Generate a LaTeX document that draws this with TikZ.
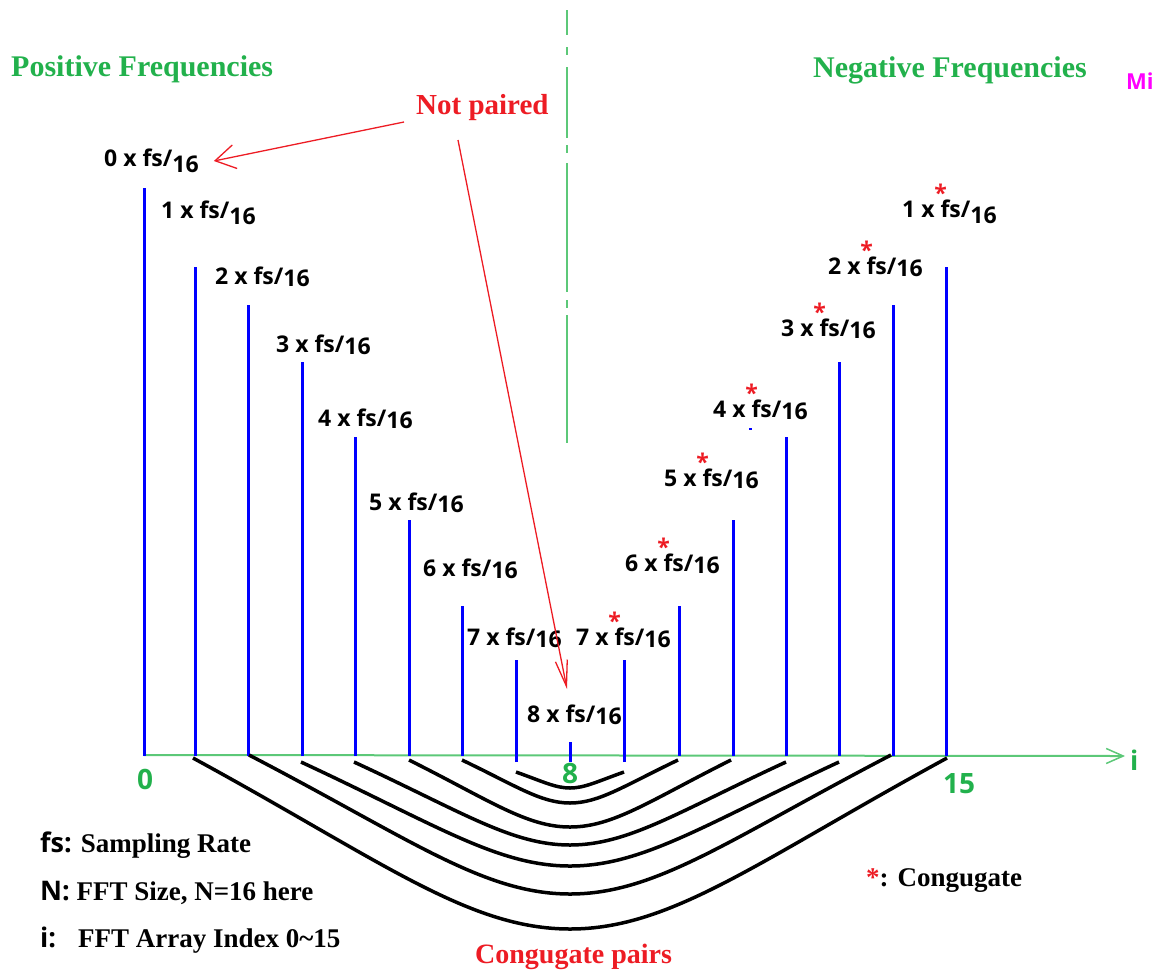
\documentclass[tikz,border=0pt]{standalone}
\usepackage{fontspec}
\setmainfont{Liberation Serif}
\newfontfamily\labfont{Open Sans}
\usetikzlibrary{arrows.meta,calc}
\definecolor{pgreen}{HTML}{22B14C}
\definecolor{pred}{HTML}{ED1C24}
\definecolor{lgreen}{HTML}{5CC878}
\definecolor{mgta}{HTML}{FF00FF}
\newcommand\frq[2]{#1 x fs/\raisebox{-#2em}{16}}
\newcommand\frc[2]{#1 x \makebox[0pt][c]{\raisebox{0.66em}{\color{pred}*}}fs/\raisebox{-#2em}{16}}
\tikzset{
  stem/.style={draw=blue, line width=3pt},
  lab/.style={font=\labfont\bfseries\fontsize{23}{23}\selectfont, anchor=base west, inner sep=0pt},
  ttl/.style={font=\bfseries\fontsize{30}{30}\selectfont, text=pgreen, anchor=base west, inner sep=0pt},
  redlab/.style={font=\bfseries\fontsize{28}{28}\selectfont, text=pred, anchor=base west, inner sep=0pt},
  legend/.style={font=\bfseries\fontsize{27}{27}\selectfont, anchor=base west, inner sep=0pt},
  axnum/.style={font=\labfont\bfseries\fontsize{28}{28}\selectfont, text=pgreen, anchor=base west, inner sep=0pt},
  axisline/.style={draw=lgreen, line width=2pt},
  pairarc/.style={draw=black, line width=3.5pt},
  redarr/.style={draw=pred, line width=1.3pt},
}
\begin{document}
\begin{tikzpicture}[x=1pt,y=-1pt]
\useasboundingbox (0,0) rectangle (1153,970);
% centre dash-dot line
\coordinate (c1) at (567,10);
\coordinate (c2) at (567,443);
\draw[draw=lgreen, line width=2pt, dash pattern=on 25pt off 12pt on 8pt off 12pt on 71pt off 7pt on 8pt off 10pt on 129pt off 8pt on 8pt off 7pt on 128pt off 50pt] (c1) -- (c2);
% axis
\coordinate (ax0) at (144,755);
\coordinate (ax1) at (1125,756);
\draw[axisline, -{Straight Barb[length=17pt,width=15pt,line width=1.5pt]}] (ax0) -- (ax1);
% stems
\foreach \i/\x/\t/\b in {0/144/188/756, 1/195/267/756, 2/248/305/756, 3/302/362/756, 4/355/437/756, 5/409/520/756, 6/462/606/756, 7/516/660/762, 8/570/742/762, 9/624/660/762, 10/679/606/756, 11/733/520/756, 12/786/437/756, 13/839/362/756, 14/893/305/756, 15/946/267/756}{
  \coordinate (t\i) at (\x,\t);
  \coordinate (b\i) at (\x,\b);
  \draw[stem] (b\i) -- (t\i);
}
\fill[blue] (749,428) rectangle (752,430);
% conjugate pair arcs
\foreach \k/\xa/\ya/\yb in {1/193/758/929, 2/249/755/894, 3/301/762/866, 4/354/762/845, 5/409/760/827, 6/462/760/803, 7/516/772/788}{
  \coordinate (pl\k) at (\xa,\ya);
  \coordinate (pm\k) at (570,\yb);
  \coordinate (pr\k) at ({1140-\xa},\ya);
  \draw[pairarc] (pl\k) .. controls ({\xa+0.5*(570-\xa)},{\ya+0.6*(\yb-\ya)}) and ({\xa+0.73*(570-\xa)},\yb) .. (pm\k)
     .. controls ({570+0.27*(570-\xa)},\yb) and ({570+0.5*(570-\xa)},{\ya+0.6*(\yb-\ya)}) .. (pr\k);
}
% frequency labels
\node[lab] (L0) at (104,166) {\frq{0}{0.3}};
\node[lab] (L1) at (161,218) {\frq{1}{0.3}};
\node[lab] (L2) at (215,284) {\frq{2}{0.12}};
\node[lab] (L3) at (276,352) {\frq{3}{0.12}};
\node[lab] (L4) at (318,426) {\frq{4}{0.12}};
\node[lab] (L5) at (369,510) {\frq{5}{0.12}};
\node[lab] (L6) at (423,576) {\frq{6}{0.12}};
\node[lab] (L7) at (467,645) {\frq{7}{0.12}};
\node[lab] (L8) at (527,722) {\frq{8}{0.12}};
\node[lab] (R7) at (576,645) {\frc{7}{0.12}};
\node[lab] (R6) at (625,571) {\frc{6}{0.12}};
\node[lab] (R5) at (664,486) {\frc{5}{0.12}};
\node[lab] (R4) at (713,417) {\frc{4}{0.12}};
\node[lab] (R3) at (781,336) {\frc{3}{0.12}};
\node[lab] (R2) at (828,274) {\frc{2}{0.12}};
\node[lab] (R1) at (902,217) {\frc{1}{0.3}};
% titles
\node[ttl] (pos) at (11,76) {Positive Frequencies};
\node[ttl] (neg) at (813,77) {Negative Frequencies};
\node[font=\labfont\bfseries\fontsize{22}{22}\selectfont, text=mgta, anchor=base west, inner sep=0pt] (mi) at (1126,89) {Mi};
% not paired
\node[redlab, font=\bfseries\fontsize{29}{29}\selectfont] (np) at (416,114) {Not paired};
\draw[redarr, -{Straight Barb[length=20pt,width=24pt,line width=1.3pt]}] ($(np.base west)+(-12,8)$) -- ($(L0.base east)+(15,-5)$);
\draw[redarr, -{Straight Barb[length=26pt,width=12pt,line width=1.3pt]}] ($(np.base west)+(42,26)$) -- ($(L8.base west)+(40,-33)$);
% axis numbers
\node[axnum] (n0) at (137,789) {0};
\node[axnum] (n8) at (562,783) {8};
\node[axnum] (n15) at (943,793) {15};
\node[axnum, font=\labfont\bfseries\fontsize{27}{27}\selectfont] (ni) at (1130,770) {i};
% legend
\node[legend] (lg1) at (40,852) {{\labfont fs:} Sampling Rate};
\node[legend] (lg2) at (40,900) {{\labfont N:} FFT Size, N=16 here};
\node[legend] (lg3) at (40,947) {{\labfont i:}\hspace{13pt} FFT Array Index 0\textasciitilde 15};
\node[legend] (cj) at (866,886) {{\color{pred}*}: Congugate};
\node[redlab] (cp) at (475,963) {Congugate pairs};
\end{tikzpicture}
\end{document}
